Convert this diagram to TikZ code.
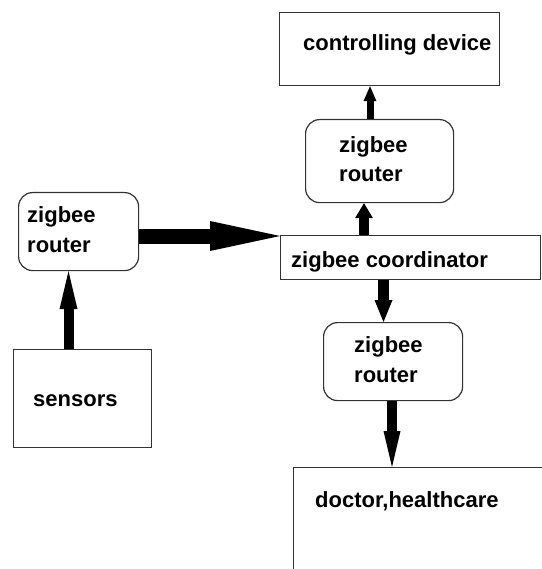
\documentclass[tikz,border=0pt]{standalone}
\usepackage{fontspec}
\setmainfont{Liberation Sans}
\usetikzlibrary{arrows.meta}
\tikzset{
  box/.style={draw=black!80, line width=1.2pt, inner sep=0pt, anchor=north west, fill=white},
  rbox/.style={box, rounded corners=14pt},
  txt/.style={font=\bfseries\fontsize{22}{29.5}\selectfont, inner sep=0pt, anchor=base west, align=left},
  arr/.style n args={3}{line width=#1, -{Triangle[length=#2, width=#3, line width=0pt]}}
}
\begin{document}
\begin{tikzpicture}[x=1pt,y=-1pt]
\useasboundingbox (0,0) rectangle (541,569);
% boxes
\node[box, minimum width=220pt, minimum height=73pt] (cd) at (279,12) {};
\node[rbox, minimum width=148pt, minimum height=83pt] (tr) at (305,119) {};
\node[box, minimum width=260pt, minimum height=44pt] (co) at (280,235) {};
\node[rbox, minimum width=139pt, minimum height=78pt] (br) at (323,322) {};
\node[box, minimum width=300pt, minimum height=160pt] (dr) at (293,467) {};
\node[rbox, minimum width=120pt, minimum height=78pt] (lr) at (18,192) {};
\node[box, minimum width=138pt, minimum height=98pt] (se) at (13,349) {};
% texts (base anchor = baseline of last line)
\node[txt] (tcd) at (303,51) {controlling device};
\node[txt] (ttr) at (339,182) {zigbee\\router};
\node[txt] (tco) at (291,267) {zigbee coordinator};
\node[txt] (tbr) at (354,382) {zigbee\\router};
\node[txt] (tdr) at (315,507) {doctor,healthcare};
\node[txt] (tlr) at (27,252) {zigbee\\router};
\node[txt] (tse) at (33,406) {sensors};
% arrows
\draw[arr={10pt}{38pt}{18pt}] (68.5,0 |- se.north) -- (68.5,0 |- lr.south);
\draw[arr={15pt}{70pt}{30pt}] (lr.east |- 0,236) -- (co.west |- 0,236);
\draw[arr={10pt}{15pt}{18pt}] (364,0 |- co.north) -- (364,0 |- tr.south);
\draw[arr={7pt}{15pt}{13pt}] (370,0 |- tr.north) -- (370,0 |- cd.south);
\draw[arr={11pt}{22pt}{18pt}] (383.5,0 |- co.south) -- (383.5,0 |- br.north);
\draw[arr={10pt}{36pt}{17pt}] (392,0 |- br.south) -- (392,0 |- dr.north);
\end{tikzpicture}
\end{document}
